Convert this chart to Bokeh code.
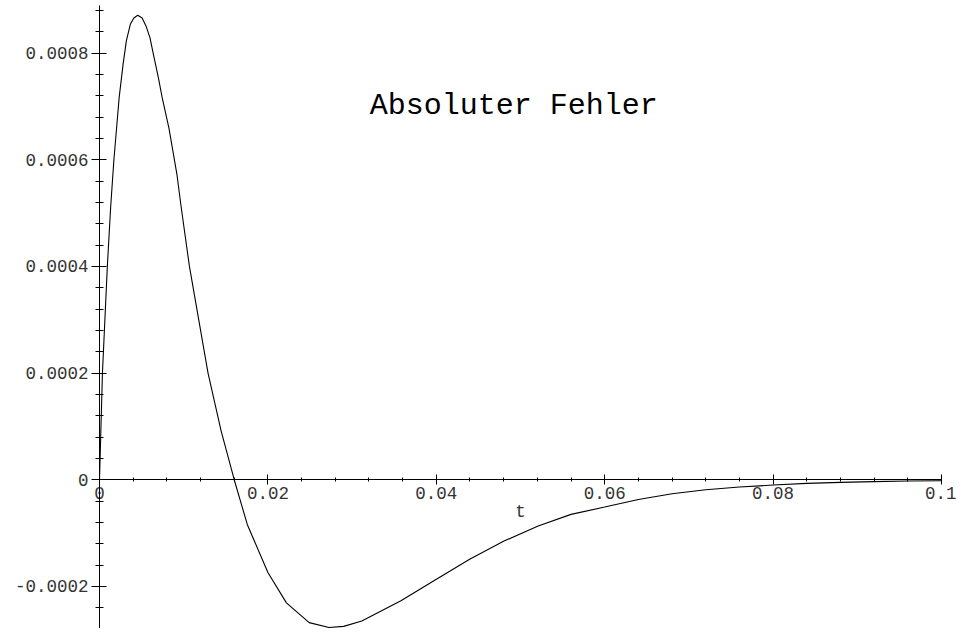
from bokeh.plotting import figure
from bokeh.models import Range1d, FixedTicker, PrintfTickFormatter, Label
from bokeh.embed import file_html
from bokeh.resources import INLINE

# ---- data ----
t_vals = [0, 0.00035, 0.00093, 0.00132, 0.00171, 0.00233, 0.0028, 0.00319,
          0.00366, 0.00408, 0.00454, 0.00506, 0.00552, 0.00599, 0.00649,
          0.00699, 0.00745, 0.00824, 0.0092, 0.00971,
          0.01068, 0.01289, 0.01445, 0.0160, 0.01755, 0.0200, 0.0222, 0.0249,
          0.02726, 0.0290, 0.03115, 0.0358, 0.03996, 0.04396, 0.04804, 0.0521,
          0.056, 0.06, 0.064, 0.068, 0.072, 0.076, 0.08, 0.084, 0.088, 0.092,
          0.096, 0.1]
err_vals = [0, 0.0002, 0.0004, 0.00051, 0.0006, 0.000716, 0.000779, 0.000823,
            0.000854, 0.000866, 0.000871, 0.000866, 0.000851, 0.000829,
            0.000791, 0.000754, 0.000716, 0.00066, 0.000572, 0.00051,
            0.0004, 0.0002, 0.0000913, 0, -0.0000838, -0.000174, -0.000231,
            -0.000268, -0.000277, -0.000275, -0.000265, -0.000227, -0.000187,
            -0.000149, -0.000115, -0.0000868, -0.000065, -0.0000512, -0.000037,
            -0.0000263, -0.0000188, -0.0000137, -0.00001, -0.0000069, -0.000005,
            -0.0000036, -0.0000025, -0.0000018]

x_ticks = [0, 0.02, 0.04, 0.06, 0.08, 0.1]
y_ticks = [-0.0002, 0, 0.0002, 0.0004, 0.0006, 0.0008]
x_minor = [i * 0.004 for i in range(0, 26)]
y_minor = [i * 0.00004 for i in range(-7, 23)]

title_text = "Absoluter Fehler"
title_pos = (0.0321, 0.000701)
x_label = "t"

# frame covers the whole canvas; axes are pinned at t=0 / value 0
p = figure(width=956, height=628, output_backend="svg", toolbar_location=None,
           x_range=Range1d(-0.011758, 0.101781),
           y_range=Range1d(-0.000279, 0.0008987),
           min_border_left=0, min_border_right=0, min_border_top=0,
           min_border_bottom=0)
p.outline_line_color = None
p.grid.visible = False
p.background_fill_color = "white"
p.border_fill_color = "white"

p.line(t_vals, err_vals, line_color="black", line_width=1.1)

tick_font = "Liberation Mono"

xa = p.xaxis[0]
xa.fixed_location = 0
xa.bounds = (0, 0.1)
xa.ticker = FixedTicker(ticks=x_ticks, minor_ticks=x_minor)
xa.formatter = PrintfTickFormatter(format="%g")
xa.major_tick_in = 5
xa.major_tick_out = 5
xa.minor_tick_in = 2
xa.minor_tick_out = 2
xa.major_label_standoff = 2
xa.major_label_text_font = tick_font
xa.major_label_text_font_size = "17.5px"
xa.major_label_text_color = "#333333"
xa.axis_label = x_label
xa.axis_label_text_font = tick_font
xa.axis_label_text_font_size = "17.5px"
xa.axis_label_text_font_style = "normal"
xa.axis_label_text_color = "#333333"
xa.axis_label_standoff = 0
xa.axis_line_color = "black"

ya = p.yaxis[0]
ya.fixed_location = 0
ya.bounds = (-0.000279, 0.000889)
ya.ticker = FixedTicker(ticks=y_ticks, minor_ticks=y_minor)
ya.formatter = PrintfTickFormatter(format="%g")
ya.major_tick_in = 7
ya.major_tick_out = 8
ya.minor_tick_in = 4
ya.minor_tick_out = 4
ya.major_label_standoff = 3
ya.major_label_text_font = tick_font
ya.major_label_text_font_size = "17.5px"
ya.major_label_text_color = "#333333"
ya.axis_line_color = "black"

p.add_layout(Label(x=title_pos[0], y=title_pos[1], text=title_text,
                   text_font="Liberation Mono", text_font_size="30px",
                   text_color="black", text_align="left",
                   text_baseline="alphabetic"))

open("out.html", "w").write(file_html(p, INLINE))
